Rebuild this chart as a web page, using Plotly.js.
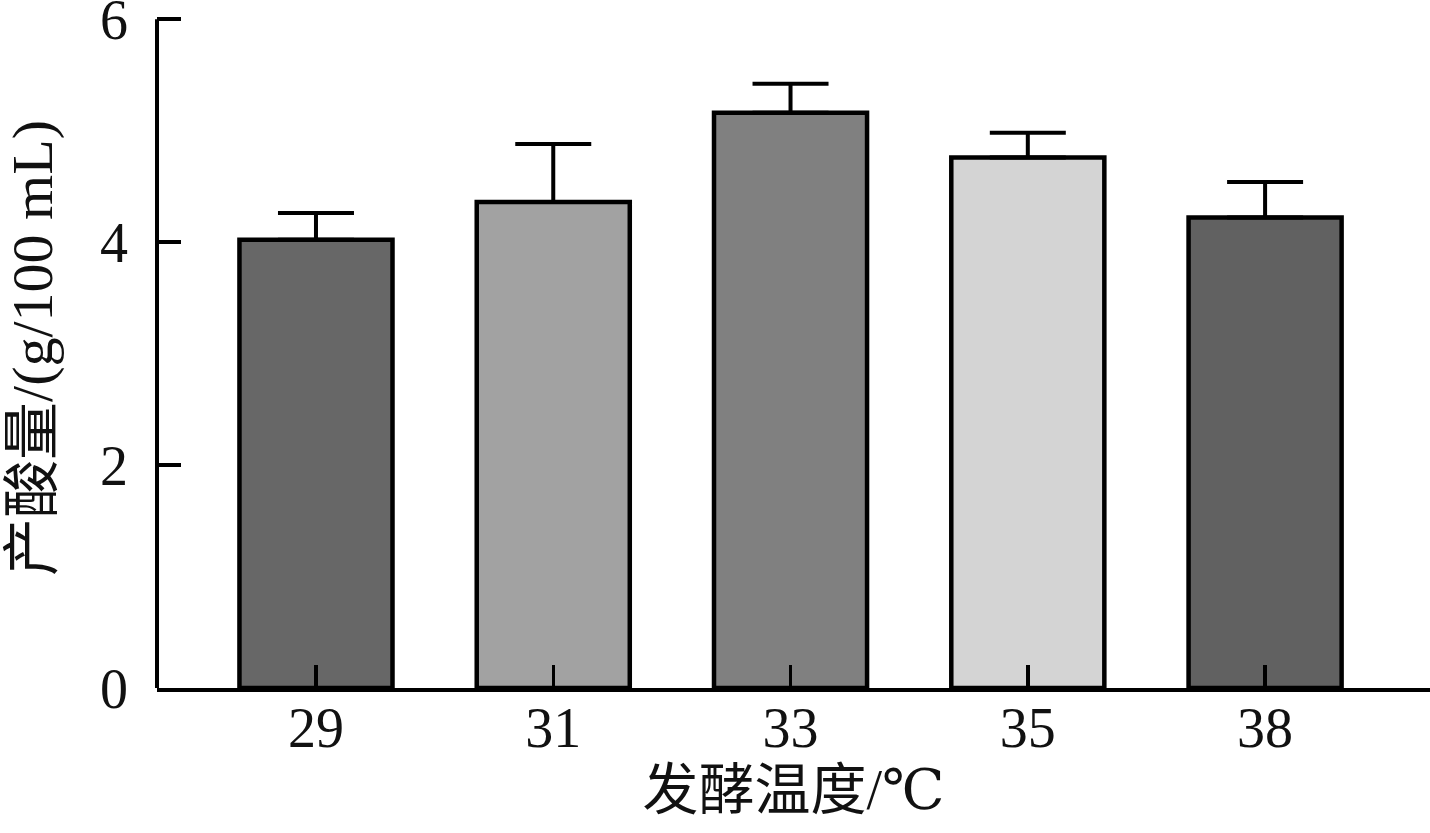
<!DOCTYPE html>
<html>
<head>
<meta charset="utf-8">
<script src="https://cdn.plot.ly/plotly-3.0.1.min.js"></script>
<style>
    html, body { margin: 0; padding: 0; background: #fff; }
    #placeholder { width: 1430px; height: 833px; }
</style>
</head>
<body>
<div id="placeholder"></div>
<script>
    'use strict';

    // 发酵温度 / 产酸量
    var temps = [ '29', '31', '33', '35', '38' ];
    var acid = [ 4.02, 4.36, 5.16, 4.76, 4.22 ];
    var acidErr = [ 0.24, 0.52, 0.26, 0.22, 0.32 ];
    var barColors = [ '#676767', '#a2a2a2', '#808080', '#d4d4d4', '#616161' ];
    var yTicks = [ 0, 2, 4, 6 ];

    var font = 'Liberation Serif, DejaVu Serif, Noto Sans CJK SC, serif';

    document.addEventListener('DOMContentLoaded', function() {

        var data = [ {
            x: temps,
            y: acid,
            type: 'bar',
            width: 0.645,
            marker: {
                color: barColors,
                line: { color: '#000', width: 4.5 }
            },
            error_y: {
                type: 'data',
                symmetric: false,
                array: acidErr,
                arrayminus: acidErr.map( () => 0 ),
                color: '#000',
                thickness: 4,
                width: 38
            },
            hoverinfo: 'none'
        } ];

        var yMax = yTicks[ yTicks.length - 1 ];

        var layout = {
            width: 1430,
            height: 833,
            // top tick sitting right at the range end gets dropped, so leave a bit of head room
            margin: { l: 157, r: 0, t: 8, b: 145 },
            paper_bgcolor: '#fff',
            plot_bgcolor: '#fff',
            showlegend: false,
            font: { family: font, color: '#111', size: 56 },
            xaxis: {
                type: 'category',
                range: [ -0.67, 4.695 ],
                showline: true,
                linecolor: '#000',
                linewidth: 4,
                ticks: 'inside',
                ticklen: 23,
                tickwidth: 3.5,
                tickcolor: '#000',
                ticklabelstandoff: -12,
                showgrid: false,
                zeroline: false,
                tickfont: { family: font, size: 56, color: '#111' },
                title: { text: '发酵温度/℃', font: { family: font, size: 56, color: '#111' }, standoff: 0 }
            },
            yaxis: {
                range: [ 0, yMax + 0.1 ],
                tickvals: yTicks,
                ticktext: yTicks.map( String ),
                showline: false,
                ticks: 'inside',
                ticklen: 24,
                tickwidth: 3.5,
                tickcolor: '#000',
                ticklabelstandoff: 28,
                ticklabeloverflow: 'allow',
                showgrid: false,
                zeroline: false,
                tickfont: { family: font, size: 56, color: '#111' },
                title: { text: '产酸量/(g/100 mL)', font: { family: font, size: 58, color: '#111' }, standoff: 32 }
            },
            shapes: [ {
                // y axis line, only up to the last tick
                type: 'line',
                xref: 'paper', x0: 0, x1: 0,
                yref: 'y', y0: 0, y1: yMax,
                line: { color: '#000', width: 4 }
            } ]
        };

        Plotly.newPlot( 'placeholder', data, layout, { staticPlot: true } );
    });
</script>
</body>
</html>
